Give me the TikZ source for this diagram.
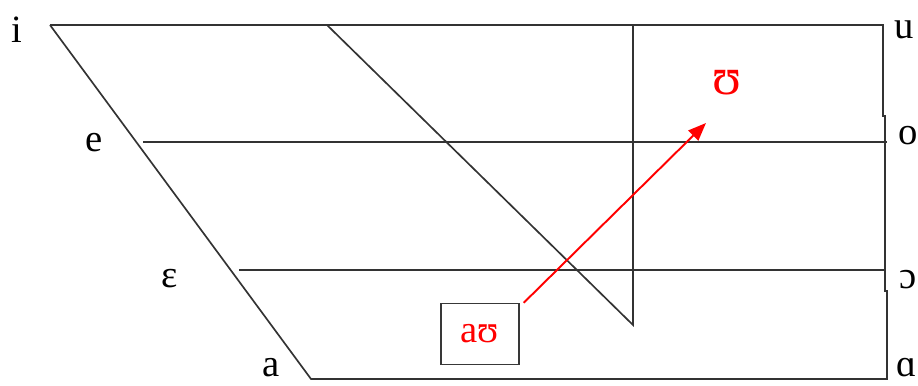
\documentclass[tikz,border=0pt]{standalone}
\usepackage{fontspec}
\setmainfont{Liberation Serif}
\usetikzlibrary{arrows.meta, positioning}
\tikzset{
  chart/.style ={line width=0.95pt, black!80},                                  % vowel chart frame
  vlbl/.style  ={font=\fontsize{22}{24}\selectfont, inner sep=0pt},              % vowel letters
  glide/.style ={-{Triangle[length=3.6mm, width=2.8mm]}, line width=1.1pt, red}, % diphthong path
  diph/.style  ={draw=black!78, line width=0.8pt, minimum width=1.56cm, minimum height=1.22cm,
                 inner sep=0pt, text=red, font=\fontsize{22}{24}\selectfont},
  goal/.style  ={text=red, font=\fontsize{30}{32}\selectfont, inner sep=0pt},
}

\begin{document}
\begin{tikzpicture}[x=0.02cm, y=-0.02cm]
  \useasboundingbox (0,0) rectangle (918,385);
  % chart corners
  \coordinate (fi) at (50,25);
  \coordinate (fa) at (311,379);
  \coordinate (bu) at (883,25);
  \coordinate (bq) at (887,379);
  % outer frame
  \draw[chart] (fi) -- (bu) -- (883,116) -- (885,116) -- (885,291) -- (887,291) -- (bq) -- (fa) -- (fi);
  % height lines
  \draw[chart] (143,142) -- (887,142);
  \draw[chart] (239,270) -- (884,270);
  % central lines
  \draw[chart] (327,25) -- (633,325) -- (633,25);
  % vowel letters
  \node[vlbl] (i)  at (17,30)  {i};
  \node[vlbl] (e)  at (94,143) {e};
  \node[vlbl] (E)  at (170,279) {ɛ};
  \node[vlbl] (a)  at (271,368) {a};
  \node[vlbl] (u)  at (904,30)  {u};
  \node[vlbl] (o)  at (908,136) {o};
  \node[vlbl] (O)  at (908,280) {ɔ};
  \node[vlbl] (A)  at (907,368) {ɑ};
  % diphthong
  \node[diph] (au) at (480,334) {aʊ};
  \node[goal] (U)  at (727,83)  {ʊ};
  \coordinate (tip) at (706,123);
  \draw[glide] ([xshift=0.08cm]au.north east) -- (tip);
\end{tikzpicture}
\end{document}
